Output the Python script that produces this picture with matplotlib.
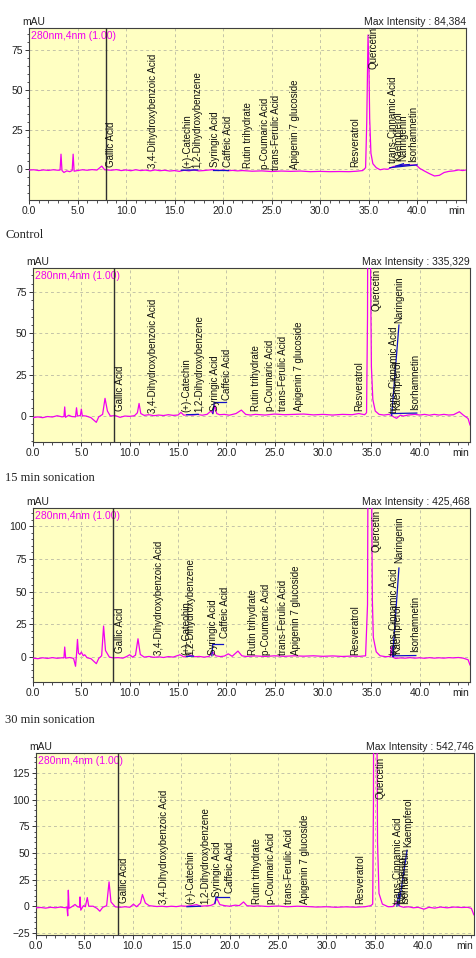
import matplotlib
matplotlib.use("Agg")
import matplotlib.pyplot as plt
from matplotlib.ticker import MultipleLocator, FormatStrFormatter

plt.rcParams['font.family'] = ['Liberation Sans', 'DejaVu Sans']

# peak names, same for every run
peak_names = ["Gallic Acid", "3,4-Dihydroxybenzoic Acid", "(+)-Catechin", "1,2-Dihydroxybenzene",
              "Syringic Acid", "Caffeic Acid", "Rutin trihydrate", "p-Coumaric Acid",
              "trans-Ferulic Acid", "Apigenin 7 glucoside", "Resveratrol", "Quercetin",
              "trans-Cinnamic Acid", "Kaempferol", "Naringenin", "Isorhamnetin"]

captions = ["", "Control", "15 min sonication", "30 min sonication"]
max_intensity = ["84,384", "335,329", "425,468", "542,746"]

# standard mix
t_std = [0.0, 0.5, 1.0, 1.5, 2.0, 2.5, 3.0, 3.2, 3.3, 3.4, 3.6, 3.9, 4.2, 4.45, 4.55, 4.65, 5.0, 5.5,
         6.0, 6.5, 7.0, 7.5, 7.8, 8.5, 9.0, 9.5, 10.0, 10.5, 11.0, 11.5, 12.0, 12.5, 13.0, 13.5, 14.0,
         14.5, 15.0, 15.5, 16.0, 16.5, 17.0, 17.5, 18.0, 18.5, 19.0, 19.5, 20.0, 20.5, 21.0, 21.5,
         22.0, 23.0, 24.0, 25.0, 26.0, 27.0, 28.0, 29.0, 30.0, 31.0, 32.0, 33.0, 33.8, 34.4, 34.7,
         34.82, 34.95, 35.05, 35.12, 35.25, 35.45, 35.8, 36.2, 36.6, 37.0, 37.3, 37.6, 38.0, 38.5,
         39.0, 39.5, 39.9, 40.3, 40.8, 41.3, 41.8, 42.3, 42.8, 43.3, 43.8, 44.3, 44.7, 45.0]
v_std = [-0.5, -0.3, -0.8, -0.4, -0.7, -0.3, -0.6, -0.5, 9.5, -0.8, -2.0, -1.0, -1.5, -0.8, 9.5, -1.2,
         -0.8, -0.3, -0.6, -0.2, -0.5, 2.0, -0.3, -0.6, -0.2, -0.8, -0.4, -0.9, -0.3, -0.8, -0.5, -1.0,
         -0.4, -0.9, -0.6, -1.1, -0.8, -1.3, -0.6, -1.0, -0.4, -1.0, -0.8, -0.5, -0.2, -0.8, -0.4,
         -0.9, -0.7, -1.0, -0.8, -1.2, -1.0, -1.4, -1.1, -1.3, -1.1, -1.5, -1.3, -1.5, -1.4, -1.5,
         -1.2, -0.8, 1.0, 30, 84.4, 62, 32, 10, 3.5, 1.0, -0.3, 0.2, 0.0, 1.0, 1.8, 2.0, 2.6, 2.8,
         2.6, 2.7, 0.5, -1.2, -2.8, -4.2, -3.8, -2.0, -1.3, -1.0, -0.4, -0.8, -0.5]

# control
t_ctrl = [0.0, 0.5, 1.0, 1.5, 2.0, 2.5, 3.0, 3.2, 3.28, 3.36, 3.7, 4.0, 4.4, 4.5, 4.6, 4.9, 5.0, 5.1,
          5.5, 6.0, 6.55, 6.8, 7.2, 7.45, 7.7, 8.0, 8.5, 9.0, 9.5, 10.0, 10.5, 10.8, 10.97, 11.15,
          11.5, 12.0, 12.5, 13.0, 13.5, 14.0, 14.5, 15.0, 15.3, 15.6, 16.0, 16.5, 17.0, 17.5, 18.0,
          18.4, 18.6, 18.8, 19.0, 19.3, 19.8, 20.3, 21.0, 21.55, 22.0, 22.5, 23.0, 24.0, 25.0, 26.0,
          27.0, 28.0, 29.0, 30.0, 31.0, 32.0, 33.0, 33.7, 34.3, 34.5, 34.6, 34.72, 34.9, 35.0, 35.15,
          35.4, 35.8, 36.3, 36.8, 37.1, 37.3, 37.6, 38.0, 38.3, 38.8, 39.5, 40.0, 40.5, 41.0, 41.5,
          42.0, 42.5, 43.0, 43.5, 44.1, 44.5, 45.0, 45.2]
v_ctrl = [-1.0, -0.5, -1.0, -0.3, -0.6, 0.2, -0.5, -0.3, 5.5, -0.8, 0.5, -0.3, -0.5, 5.0, 0.0, 0.3,
          4.2, 0.2, 0.0, -1.0, -3.8, -0.5, 1.0, 10.7, 3.0, 0.0, 0.3, -0.8, 0.0, -0.2, 0.2, 2.0, 7.6,
          1.5, 0.4, 0.8, 0.2, 0.6, 0.3, 0.8, 0.4, 0.6, 2.2, 0.5, 0.8, 0.6, 1.0, 0.5, 1.0, 3.0, 1.5,
          6.5, 1.5, 0.8, 1.0, 0.5, 1.5, 3.6, 1.0, 0.6, 1.0, 0.6, 1.2, 0.8, 1.0, 1.2, 0.7, 1.0, 0.6,
          1.0, 0.8, 1.5, 0.8, 2.0, 60, 335.3, 100, 30, 10, 3.0, 1.0, 0.6, 1.0, 0.3, -0.5, -1.4, 0.5,
          0.0, 0.6, 1.0, 0.6, 1.0, 0.5, 1.0, 0.6, 1.0, 0.6, 0.8, 2.6, 0.6, -1.5, -5.4]

# 15 min sonication
t_s15 = [0.0, 0.5, 1.0, 1.5, 2.0, 2.5, 3.0, 3.2, 3.28, 3.38, 3.8, 4.2, 4.4, 4.5, 4.6, 4.7, 4.85, 5.0,
         5.2, 5.35, 5.6, 6.0, 6.55, 6.8, 7.1, 7.3, 7.5, 7.9, 8.3, 8.8, 9.3, 9.7, 10.0, 10.3, 10.6,
         10.86, 11.1, 11.5, 12.0, 12.5, 13.0, 13.5, 14.0, 14.5, 15.2, 15.6, 16.0, 16.3, 16.7, 17.2,
         17.7, 18.2, 18.6, 18.9, 19.4, 19.8, 20.2, 20.6, 21.2, 21.6, 22.0, 23.0, 24.0, 25.0, 26.0,
         27.0, 28.0, 29.0, 30.0, 31.0, 32.0, 33.0, 33.8, 34.4, 34.6, 34.78, 35.1, 35.2, 35.5, 35.9,
         36.5, 37.0, 37.07, 37.2, 37.5, 38.0, 38.5, 39.0, 39.5, 40.0, 40.5, 41.0, 41.5, 42.0, 42.5,
         43.0, 43.5, 44.0, 44.5, 45.0, 45.2]
v_s15 = [-0.8, -1.2, -0.5, -1.0, -0.4, -0.9, -0.5, -0.6, 7.7, -0.8, -0.3, -1.0, -7.0, 2.0, 13.5, 3.0,
         2.0, 3.8, 1.0, 1.8, -0.5, -1.2, -5.0, -1.0, 1.0, 23.7, 5.0, 0.0, -0.6, -0.4, -0.8, 0.5, 1.8,
         0.0, 1.5, 14.0, 2.0, 0.0, 0.5, -0.2, 0.2, -0.3, 0.4, 0.0, 1.8, 0.2, 0.6, 1.5, 0.3, 0.5, 0.0,
         0.5, 3.8, 1.0, 0.4, 0.8, 2.5, 0.6, 4.6, 1.0, 0.5, 0.9, 0.5, 1.0, 0.6, 1.0, 0.7, 1.0, 0.6,
         0.9, 0.5, 0.8, 0.6, 1.0, 40, 425.5, 44, 15, 4.0, 1.0, 0.3, 0.6, 7.7, 0.0, -1.0, -0.6, -0.8,
         -0.4, -0.8, -0.5, -0.9, -0.4, -0.8, -0.5, -0.8, -0.4, -0.6, -0.3, -0.8, -2.0, -6.0]

# 30 min sonication
t_s30 = [0.0, 0.5, 1.0, 1.5, 2.0, 2.5, 3.0, 3.2, 3.28, 3.34, 3.42, 3.7, 4.03, 4.3, 4.5, 4.55, 4.63,
         4.9, 5.1, 5.3, 5.45, 5.9, 6.3, 6.6, 6.9, 7.3, 7.55, 7.75, 8.2, 8.7, 9.2, 9.7, 10.07, 10.4,
         10.8, 11.0, 11.3, 11.7, 12.5, 13.0, 13.5, 14.0, 14.5, 15.0, 15.5, 16.0, 16.6, 17.0, 17.5,
         18.0, 18.4, 18.7, 19.0, 19.5, 20.0, 20.6, 21.0, 21.45, 21.8, 22.5, 23.0, 24.0, 25.0, 26.0,
         27.0, 28.0, 29.0, 30.0, 31.0, 32.0, 33.0, 34.0, 34.6, 34.8, 34.88, 34.95, 35.2, 35.3, 35.45,
         35.8, 36.4, 36.9, 37.3, 37.6, 38.0, 38.5, 39.0, 39.5, 40.1, 40.6, 41.2, 41.8, 42.5, 43.2,
         44.0, 44.6, 45.0, 45.25]
v_s30 = [-1.5, -1.2, -1.8, -1.0, -1.5, -0.8, -1.4, -1.0, -9.0, 15.0, -2.0, -0.5, 1.6, -0.5, -1.0, 8.7,
         -3.7, 0.5, -0.5, 8.1, 0.0, 0.0, -2.0, -4.7, -1.0, 0.5, 22.8, 4.0, -0.6, -1.0, -0.5, -1.0,
         1.9, -0.5, 3.0, 11.0, 3.0, 0.5, -0.3, 0.0, -0.5, 0.0, -0.4, 0.3, 0.0, 0.5, 1.5, 0.0, 0.3,
         0.5, 2.0, 7.2, 1.5, 0.5, 0.0, 1.0, 0.5, 4.0, 0.5, 0.0, 0.3, -0.3, 0.2, -0.5, 0.0, -0.3,
         -0.8, -0.5, -1.0, -0.6, -0.9, -0.5, 0.5, 2.0, 100, 542.7, 250, 60, 12, 2.0, -0.5, -0.3, 4.0,
         0.0, -1.0, -0.5, -1.5, -1.0, -2.8, -1.0, -1.8, -0.8, -1.5, -0.8, -1.2, -1.0, -2.0, -8.0]

# label retention times and the height each label starts from
lab_t_std = [8.5, 12.8, 16.3, 17.4, 19.2, 20.5, 22.6, 24.3, 25.5, 27.4, 33.6, 35.5, 37.5, 38.1, 38.6, 39.6]
lab_h_std = [0, -0.5, -0.5, -0.5, 0, 0, -0.5, -1, -1.5, -1, 0, 62, 2.5, 4, 4, 3]
lab_t_ctrl = [8.97, 12.4, 15.9, 17.2, 18.8, 20.1, 23.1, 24.5, 25.9, 27.5, 33.7, 35.5, 37.3, 37.65, 37.9, 39.5]
lab_h_ctrl = [1.6, 0.6, 1, 1, 1.6, 8.6, 1.6, 1.6, 1.6, 1.6, 1.6, 62, 0.6, 2.6, 55, 2.6]
lab_t_s15 = [9.0, 13.0, 15.9, 16.3, 18.6, 19.9, 22.8, 24.1, 25.9, 27.2, 33.3, 35.5, 37.3, 37.65, 37.85, 39.5]
lab_h_s15 = [1.3, 0, 0, 0, 0, 12.8, 0, 0, 0, 0, 0, 79, 0, 1, 70, 2.5]
lab_t_s30 = [9.1, 13.2, 16.0, 17.5, 18.7, 20.0, 22.8, 24.3, 26.1, 27.8, 33.5, 35.6, 37.4, 38.45, 37.9, 38.2]
lab_h_s30 = [1, 0, 0, 0, 7, 10, 0, 0, 0, 0, 0, 99, 0, 54, 1, 0]

# blue integration marks (x0, y0, x1, y1)
blue_std = [(15.7, -0.6, 17.4, -0.4), (19.0, -0.2, 20.5, -0.2), (37.2, 1.0, 40.0, 2.8),
            (37.8, 2.0, 38.6, 3.5), (38.0, 2.2, 39.2, 3.0)]
blue_ctrl = [(15.9, 0.8, 17.1, 1.0), (18.6, 1.5, 18.75, 8.2), (18.75, 8.2, 20.0, 8.2),
             (37.1, 0.5, 37.85, 55), (37.1, 1.5, 39.7, 1.8)]
blue_s15 = [(15.9, 0.5, 16.6, 0.8), (18.5, 1.0, 18.6, 10.2), (18.6, 10.2, 19.7, 10.2),
            (37.2, 0.5, 37.85, 68), (37.2, 1.0, 37.2, 14), (37.3, 1.0, 39.6, 1.2)]
blue_s30 = [(15.6, -0.5, 17.0, 0.0), (18.5, 2.5, 18.6, 8.8), (18.6, 8.8, 19.9, 8.8),
            (37.5, 1.0, 38.35, 52.5), (37.3, 0.0, 37.5, 12)]

vline_t = [7.95, 8.35, 8.3, 8.5]
xmax = [45.05, 45.2, 45.2, 45.27]
ylims = [(-19.3, 88.8), (-15.7, 89.5), (-19, 113.8), (-27, 143.7)]

W, H = 477, 958
# axes boxes in pixels: left, top, right, bottom
boxes = [(29, 28, 466, 200), (33, 268, 470, 442), (33, 508, 470, 682), (36, 753, 474, 935)]
caption_y = [0, 235, 478, 720]

traces = [(t_std, v_std), (t_ctrl, v_ctrl), (t_s15, v_s15), (t_s30, v_s30)]
labels = [(lab_t_std, lab_h_std), (lab_t_ctrl, lab_h_ctrl), (lab_t_s15, lab_h_s15), (lab_t_s30, lab_h_s30)]
blues = [blue_std, blue_ctrl, blue_s15, blue_s30]

fig = plt.figure(figsize=(W / 100, H / 100), dpi=100)
bg = '#FFFFC2'
pink = '#F000F0'

for i in range(4):
    l, t, r, b = boxes[i]
    ax = fig.add_axes([l / W, 1 - b / H, (r - l) / W, (b - t) / H])
    ax.set_facecolor(bg)
    ax.set_axisbelow(True)
    ax.grid(True, which='major', linestyle=(0, (3, 3)), color='#C4C4A8', lw=0.7)

    tt, vv = traces[i]
    ax.plot(tt, vv, color=pink, lw=0.9, zorder=3)
    for x0, y0, x1, y1 in blues[i]:
        ax.plot([x0, x1], [y0, y1], color='#1010C8', lw=0.9, zorder=4)
    ax.axvline(vline_t[i], color='#303030', lw=1.0, zorder=5)

    lt, lh = labels[i]
    for name, x, h in zip(peak_names, lt, lh):
        ax.annotate(name, xy=(x, h), xytext=(0, 1.5), textcoords='offset points',
                    rotation=90, ha='center', va='bottom', fontsize=7, color='#111111', zorder=6)

    ax.set_xlim(0, xmax[i])
    ax.set_ylim(*ylims[i])
    ax.xaxis.set_major_locator(MultipleLocator(5))
    ax.xaxis.set_minor_locator(MultipleLocator(1))
    ax.yaxis.set_major_locator(MultipleLocator(25))
    ax.yaxis.set_minor_locator(MultipleLocator(5))
    ax.xaxis.set_major_formatter(FormatStrFormatter('%.1f'))
    ax.set_xticks([x for x in range(0, 45, 5)])
    ax.tick_params(which='major', direction='out', length=3, width=0.7, labelsize=7.5, pad=1.5,
                   colors='#333333', labelcolor='#222222')
    ax.tick_params(which='minor', direction='out', length=1.8, width=0.6, colors='#333333')
    for s in ax.spines.values():
        s.set_color('#404040')
        s.set_linewidth(0.8)

    ax.text(-0.016, 1.006, 'mAU', transform=ax.transAxes, ha='left', va='bottom',
            fontsize=7.5, color='#222222')
    ax.text(1.0, 1.006, 'Max Intensity : ' + max_intensity[i], transform=ax.transAxes,
            ha='right', va='bottom', fontsize=7.5, color='#222222')
    ax.text(0.004, 0.985, '280nm,4nm (1.00)', transform=ax.transAxes, ha='left', va='top',
            fontsize=7.5, color=pink)
    ax.annotate('min', xy=(0.997, 0), xycoords='axes fraction', xytext=(0, -4.5),
                textcoords='offset points', ha='right', va='top', fontsize=7.5, color='#222222')

    if captions[i]:
        fig.text(5 / W, 1 - caption_y[i] / H, captions[i], ha='left', va='center',
                 fontsize=9, family='Liberation Serif', color='#222222')

fig.savefig('out.png', dpi=100, facecolor='white')
